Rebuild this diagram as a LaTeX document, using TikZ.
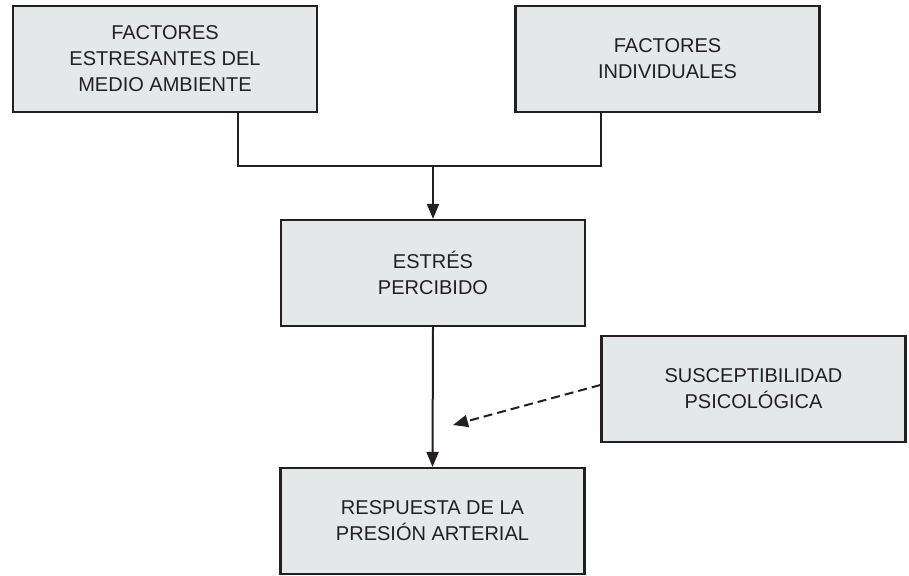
\documentclass[tikz,border=0pt]{standalone}
\usepackage{fontspec}
\setmainfont{Liberation Sans}
\usetikzlibrary{arrows.meta,calc}
\definecolor{boxfill}{rgb}{0.90,0.91,0.91}
\definecolor{ink}{rgb}{0.14,0.12,0.13}

\begin{document}
\begin{tikzpicture}
      [x = 1pt, y = -1pt,
      box/.style= {
         draw = ink,
         fill = boxfill,
         line width = 2.2pt,
         minimum width = 304pt,
         minimum height = 106pt,
         align = center,
         font = \fontsize{20}{26}\selectfont,
         text = ink
      },
      link/.style= {
         draw = ink,
         line width = 2pt
      },
      arrowtip/.style= {-{Triangle[length=15pt,width=12pt]}}]

      \useasboundingbox (0, 0) rectangle (909, 575);

      \node[box] (env) at (165, 59) {FACTORES\\ESTRESANTES DEL\\MEDIO AMBIENTE};
      \node[box] (indiv) at (667.5, 59) {FACTORES\\INDIVIDUALES};
      \node[box] (stress) at (433, 273) {ESTRÉS\\PERCIBIDO};
      \node[box] (suscep) at (753.5, 389) {SUSCEPTIBILIDAD\\PSICOLÓGICA};
      \node[box] (resp) at (432.5, 521) {RESPUESTA DE LA\\PRESIÓN ARTERIAL};

      \coordinate (join) at (433, 166);
      \coordinate (target) at (453, 425);

      \draw[link] ([xshift = 73pt]env.south) |- (join);
      \draw[link] ([xshift = -67pt]indiv.south) |- (join);
      \draw[link, arrowtip] (join) -- (stress.north);
      \draw[link, arrowtip] (stress.south) -- (resp.north);
      \draw[link, arrowtip, dash pattern = on 9pt off 5pt]
         ($(suscep.west) + (0, -4)$) -- (target);

   \end{tikzpicture}
\end{document}
